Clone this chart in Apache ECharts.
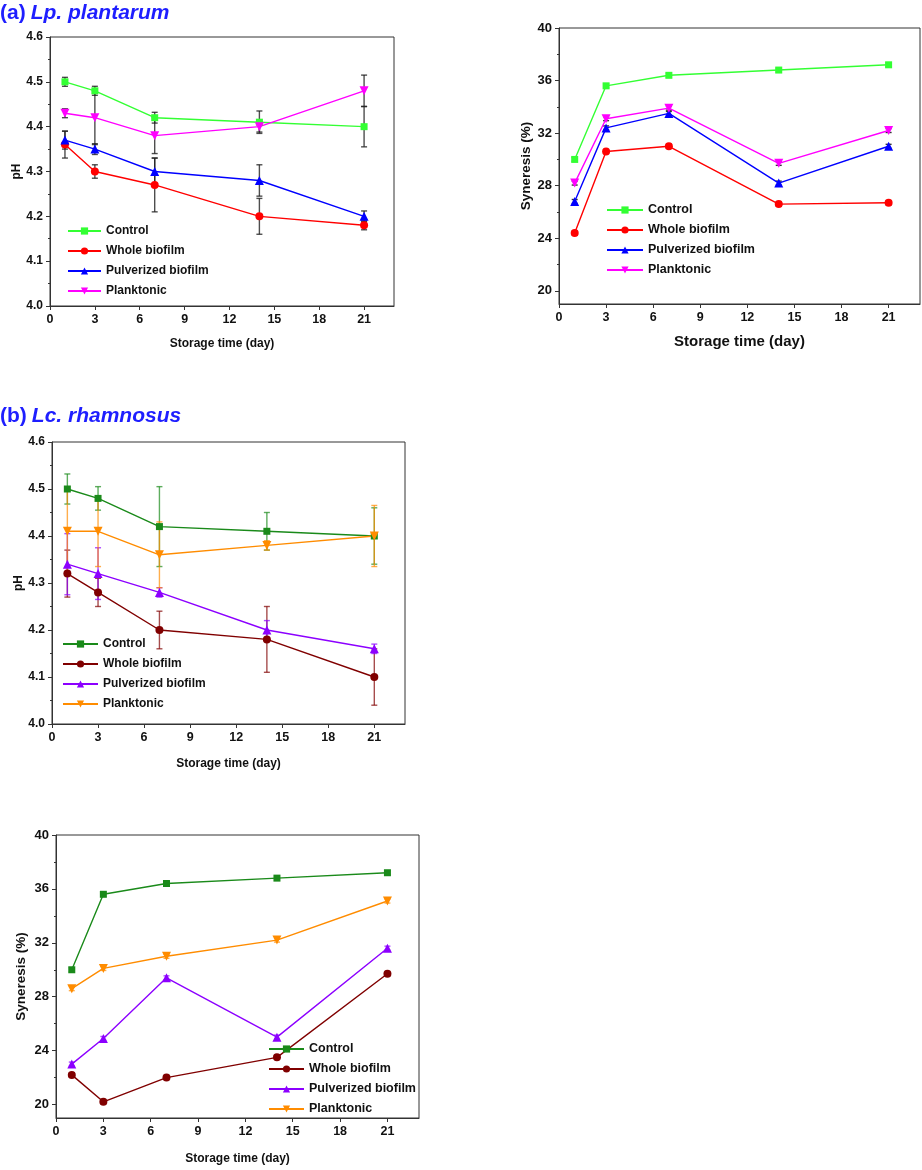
<!DOCTYPE html>
<html>
<head>
<meta charset="utf-8">
<script src="https://cdn.jsdelivr.net/npm/echarts@6/dist/echarts.min.js"></script>
<style>
html, body { margin: 0; padding: 0; background: #fff; }
#main { width: 922px; height: 1170px; }
</style>
</head>
<body>
<div id="main"></div>
<script>
// storage days and series names
var days = [1, 3, 7, 14, 21];
var seriesNames = ['Control', 'Whole biofilm', 'Pulverized biofilm', 'Planktonic'];
var xTicks = [0, 3, 6, 9, 12, 15, 18, 21];
var synTicks = [20, 24, 28, 32, 36, 40];
var synMinorTicks = [22, 26, 30, 34, 38];

// (a) Lp. plantarum - pH
var phA = [
    [4.50, 4.48, 4.42, 4.41, 4.40],
    [4.36, 4.30, 4.27, 4.20, 4.18],
    [4.37, 4.35, 4.30, 4.28, 4.20],
    [4.43, 4.42, 4.38, 4.40, 4.48]
];
var phAErr = [
    [0.01, 0.01, 0.012, 0.025, 0.045],
    [0.03, 0.015, 0.06, 0.04, 0.01],
    [0.02, 0.012, 0.03, 0.035, 0.012],
    [0.01, 0.06, 0.04, 0.012, 0.035]
];

// (a) Lp. plantarum - syneresis
var synA = [
    [30.0, 35.6, 36.4, 36.8, 37.2],
    [24.4, 30.6, 31.0, 26.6, 26.7],
    [26.8, 32.4, 33.5, 28.2, 31.0],
    [28.2, 33.1, 33.9, 29.7, 32.2]
];
var synAErr = [
    [0.15, 0.15, 0.15, 0.15, 0.15],
    [0.15, 0.15, 0.15, 0.15, 0.15],
    [0.15, 0.15, 0.15, 0.15, 0.15],
    [0.15, 0.15, 0.15, 0.15, 0.15]
];

// (b) Lc. rhamnosus - pH
var phB = [
    [4.50, 4.48, 4.42, 4.41, 4.40],
    [4.32, 4.28, 4.20, 4.18, 4.10],
    [4.34, 4.32, 4.28, 4.20, 4.16],
    [4.41, 4.41, 4.36, 4.38, 4.40]
];
var phBErr = [
    [0.032, 0.025, 0.085, 0.04, 0.06],
    [0.05, 0.03, 0.04, 0.07, 0.06],
    [0.065, 0.055, 0.01, 0.02, 0.01],
    [0.09, 0.075, 0.07, 0.01, 0.065]
];

// (b) Lc. rhamnosus - syneresis
var synB = [
    [30.0, 35.6, 36.4, 36.8, 37.2],
    [22.2, 20.2, 22.0, 23.5, 29.7],
    [23.0, 24.9, 29.4, 25.0, 31.6],
    [28.6, 30.1, 31.0, 32.2, 35.1]
];
var synBErr = [
    [0.15, 0.15, 0.15, 0.15, 0.15],
    [0.15, 0.15, 0.15, 0.15, 0.15],
    [0.15, 0.15, 0.15, 0.15, 0.15],
    [0.15, 0.15, 0.15, 0.15, 0.15]
];

var F = '"Liberation Sans", Arial, sans-serif';
var colorsA = ['#33ff33', '#ff0000', '#0000ff', '#ff00ff'];
var colorsB = ['#1a8a1a', '#800000', '#8c00ff', '#ff8c00'];
var symbols = ['rect', 'circle', 'triangle', 'triangle'];
var rotates = [0, 0, 0, 180];
var axisColor = '#333';

function xAx(g, nameSize, gap) {
    return {
        type: 'value', gridIndex: g, min: 0, max: 23,
        name: 'Storage time (day)', nameLocation: 'middle', nameGap: gap,
        nameTextStyle: { fontFamily: F, fontWeight: 'bold', fontSize: nameSize, color: '#111' },
        axisLine: { show: true, lineStyle: { color: axisColor, width: 1 } },
        axisTick: { show: true, length: 4, customValues: xTicks, lineStyle: { color: axisColor } },
        axisLabel: { customValues: xTicks, margin: 7, fontFamily: F, fontWeight: 'bold', fontSize: 12.5, color: '#111' },
        splitLine: { show: false }
    };
}

function yPh(g) {
    return {
        type: 'value', gridIndex: g, min: 4.0, max: 4.6, interval: 0.1, position: 'left',
        name: 'pH', nameLocation: 'middle', nameGap: 27,
        nameTextStyle: { fontFamily: F, fontWeight: 'bold', fontSize: 12, color: '#111' },
        axisLine: { show: true, lineStyle: { color: axisColor, width: 1 } },
        axisTick: { show: true, length: 4, lineStyle: { color: axisColor } },
        minorTick: { show: true, splitNumber: 2, length: 2, lineStyle: { color: axisColor } },
        axisLabel: { margin: 7, fontFamily: F, fontWeight: 'bold', fontSize: 12, color: '#111',
            formatter: function (v) { return v.toFixed(1); } },
        splitLine: { show: false }
    };
}

function ySyn(g, gap) {
    return {
        type: 'value', gridIndex: g, min: 19, max: 40, position: 'left',
        name: 'Syneresis (%)', nameLocation: 'middle', nameGap: gap,
        nameTextStyle: { fontFamily: F, fontWeight: 'bold', fontSize: 13.5, color: '#111' },
        axisLine: { show: true, lineStyle: { color: axisColor, width: 1 } },
        axisTick: { show: true, length: 4, customValues: synTicks, lineStyle: { color: axisColor } },
        axisLabel: { customValues: synTicks, margin: 7, fontFamily: F, fontWeight: 'bold', fontSize: 13, color: '#111' },
        splitLine: { show: false }
    };
}

// second left axis on the same grid, only for the short minor ticks
function ySynMinor(g) {
    return {
        type: 'value', gridIndex: g, min: 19, max: 40, position: 'left', offset: 0,
        axisLine: { show: false },
        axisTick: { show: true, length: 2, customValues: synMinorTicks, lineStyle: { color: axisColor } },
        axisLabel: { show: false },
        splitLine: { show: false }
    };
}

function errorSeries(idx, vals, errs, color, opacity) {
    var data = days.map(function (d, i) {
        return [d, vals[i] - errs[i], vals[i] + errs[i]];
    });
    return {
        type: 'custom', xAxisIndex: idx, yAxisIndex: idx, data: data, z: 1, silent: true,
        renderItem: function (params, api) {
            var lo = api.coord([api.value(0), api.value(1)]);
            var hi = api.coord([api.value(0), api.value(2)]);
            var w = 3;
            var st = { stroke: color, lineWidth: 1.4, opacity: opacity };
            return {
                type: 'group',
                children: [
                    { type: 'line', shape: { x1: lo[0], y1: lo[1], x2: hi[0], y2: hi[1] }, style: st },
                    { type: 'line', shape: { x1: lo[0] - w, y1: lo[1], x2: lo[0] + w, y2: lo[1] }, style: st },
                    { type: 'line', shape: { x1: hi[0] - w, y1: hi[1], x2: hi[0] + w, y2: hi[1] }, style: st }
                ]
            };
        }
    };
}

var panels = [
    { vals: phA, errs: phAErr, colors: colorsA, errColor: '#222', errOpacity: 0.8, tag: 'a1' },
    { vals: synA, errs: synAErr, colors: colorsA, errColor: '#222', errOpacity: 0.9, tag: 'a2' },
    { vals: phB, errs: phBErr, colors: colorsB, errColor: null, errOpacity: 0.7, tag: 'b1' },
    { vals: synB, errs: synBErr, colors: colorsB, errColor: null, errOpacity: 0.7, tag: 'b2' }
];

var series = [];
panels.forEach(function (p, idx) {
    p.vals.forEach(function (vals, k) {
        series.push(errorSeries(idx, vals, p.errs[k], p.errColor || p.colors[k], p.errOpacity));
    });
    p.vals.forEach(function (vals, k) {
        series.push({
            name: seriesNames[k] + '#' + p.tag,
            type: 'line', xAxisIndex: idx, yAxisIndex: idx, z: 3,
            data: days.map(function (d, i) { return [d, vals[i]]; }),
            symbol: symbols[k], symbolRotate: rotates[k],
            symbolSize: k === 0 ? 7 : (k === 1 ? 8 : 9),
            itemStyle: { color: p.colors[k] },
            lineStyle: { color: p.colors[k], width: 1.4 }
        });
    });
});

function legend(tag, left, top, itemWidth, fontSize) {
    return {
        orient: 'vertical', left: left, top: top, padding: 0,
        itemWidth: itemWidth, itemHeight: 9, itemGap: 6,
        data: seriesNames.map(function (n) { return n + '#' + tag; }),
        formatter: function (n) { return n.split('#')[0]; },
        textStyle: { fontFamily: F, fontWeight: 'bold', fontSize: fontSize, color: '#111', lineHeight: 14 }
    };
}

var titleRich = {
    n: { fontFamily: F, fontWeight: 'bold', fontSize: 21, color: '#1e1eff' },
    s: { fontFamily: F, fontWeight: 'bold', fontStyle: 'italic', fontSize: 21, color: '#1e1eff' }
};

var option = {
    animation: false,
    backgroundColor: '#fff',
    title: [
        { text: '{n|(a)} {s|Lp. plantarum}', left: 0, top: 3, padding: 0, textStyle: { rich: titleRich } },
        { text: '{n|(b)} {s|Lc. rhamnosus}', left: 0, top: 406, padding: 0, textStyle: { rich: titleRich } }
    ],
    grid: [
        { left: 50, top: 37, width: 344, height: 269, show: true, borderColor: axisColor, borderWidth: 1 },
        { left: 559, top: 28, width: 361, height: 276, show: true, borderColor: axisColor, borderWidth: 1 },
        { left: 52, top: 442, width: 353, height: 282, show: true, borderColor: axisColor, borderWidth: 1 },
        { left: 56, top: 835, width: 363, height: 283, show: true, borderColor: axisColor, borderWidth: 1 }
    ],
    xAxis: [xAx(0, 12, 32), xAx(1, 15, 30), xAx(2, 12, 34), xAx(3, 12, 35)],
    yAxis: [yPh(0), ySyn(1, 26), yPh(2), ySyn(3, 28), ySynMinor(1), ySynMinor(3)],
    legend: [
        legend('a1', 67, 224, 33, 12),
        legend('a2', 606, 203, 36, 12.5),
        legend('b1', 62, 637, 35, 12),
        legend('b2', 268, 1042, 35, 12.5)
    ],
    series: series
};

var chart = echarts.init(document.getElementById('main'));
chart.setOption(option);
</script>
</body>
</html>
